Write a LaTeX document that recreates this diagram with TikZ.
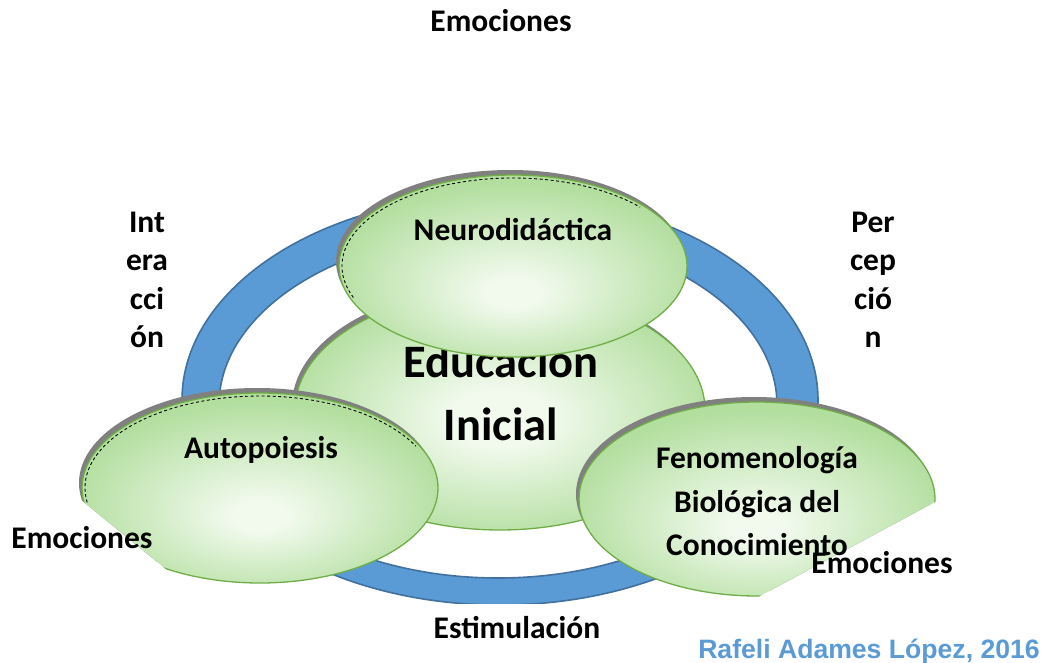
\documentclass[tikz,border=0pt]{standalone}
\usepackage{fontspec}
\setmainfont{Carlito}
\newfontfamily\authorfont{Liberation Sans}
\definecolor{ringblue}{RGB}{91,155,213}
\definecolor{ringdark}{RGB}{65,113,156}
\definecolor{gin}{RGB}{241,250,237}
\definecolor{gout}{RGB}{178,222,158}
\definecolor{gline}{RGB}{112,173,71}
\definecolor{shadowgray}{RGB}{128,128,128}
\definecolor{authorblue}{RGB}{91,155,213}
\pgfdeclareradialshading{ellshade}{\pgfpoint{0bp}{-8bp}}{color(0bp)=(gin); color(4bp)=(gin); color(27bp)=(gout); color(50bp)=(gout)}
\pgfdeclareradialshading{ellshadec}{\pgfpoint{0bp}{-2bp}}{color(0bp)=(gin); color(6bp)=(gin); color(27bp)=(gout); color(50bp)=(gout)}
\tikzset{
  lbl/.style={font=\bfseries\fontsize{31.5}{38}\selectfont, anchor=base, inner sep=0pt},
  biglbl/.style={font=\bfseries\fontsize{46.5}{56}\selectfont, anchor=base, inner sep=0pt},
  authorlbl/.style={font=\authorfont\bfseries\fontsize{26.6}{30}\selectfont, text=authorblue, anchor=base, inner sep=0pt},
  ellside/.style={shading=ellshade, draw=gline, line width=1.3pt},
  ellcenter/.style={shading=ellshadec, draw=gline, line width=1.3pt},
  shadowell/.style={fill=shadowgray},
  dashart/.style={draw=black, line width=0.9pt, dash pattern=on 3pt off 2.5pt},
  ringstyle/.style={fill=ringblue, draw=ringdark, line width=1.6pt, even odd rule},
}
\begin{document}
\begin{tikzpicture}[x=1pt,y=-1pt]
\useasboundingbox[fill=white] (0,0) rectangle (1046,663);

% ---- blue ring ----
\begin{scope}
\clip (0,0) rectangle (1046,603);
\path[ringstyle]
  (500,400) ellipse [x radius=318, y radius=205]
  (498,405) ellipse [x radius=279, y radius=173];
\end{scope}

% ---- central ellipse ----
\fill[shadowell] (497,406) ellipse [x radius=205, y radius=120];
\shadedraw[ellcenter] (500,410) ellipse [x radius=205, y radius=120];
\node[biglbl] (edu1) at (501,377) {Educación};
\node[biglbl] (edu2) at (501,440) {Inicial};

% ---- Neurodidactica ----
\fill[shadowell] (510,261) ellipse [x radius=174, y radius=91];
\shadedraw[ellside] (513,266) ellipse [x radius=174, y radius=91];
\draw[dashart] (513,266) ++(-201:171 and 88) arc[start angle=-201, end angle=-42, x radius=171, y radius=88];
\node[lbl] (neuro) at (513,240) {Neurodidáctica};

% ---- Autopoiesis (cut at lower left) ----
\begin{scope}
\clip (-79,369) -- (249,637) -- (620,637) -- (620,300) -- (-79,300) -- cycle;
\fill[shadowell] (257,483) ellipse [x radius=178, y radius=95];
\shadedraw[ellside] (260,488) ellipse [x radius=178, y radius=95];
\draw[dashart] (260,488) ++(-189:175 and 92) arc[start angle=-189, end angle=-27, x radius=175, y radius=92];
\end{scope}
\node[lbl] (auto) at (261,458) {Autopoiesis};

% ---- Fenomenologia (cut at lower right) ----
\begin{scope}
\clip (1106,410) -- (587,689) -- (500,689) -- (500,300) -- (1106,300) -- cycle;
\fill[shadowell] (754,494) ellipse [x radius=178, y radius=97];
\shadedraw[ellside] (757,499) ellipse [x radius=178, y radius=97];
\end{scope}
\node[lbl] (fen1) at (757,468) {Fenomenología};
\node[lbl] (fen2) at (757,512) {Biológica del};
\node[lbl] (fen3) at (757,555) {Conocimiento};

% ---- outer labels ----
\node[lbl] (emotop) at (501,32) {Emociones};
\node[lbl] (emoleft) at (82,548) {Emociones};
\node[lbl] (emoright) at (882,573) {Emociones};
\node[lbl] (estim) at (517,638) {Estimulación};

\node[lbl] (int1) at (147,232) {Int};
\node[lbl] (int2) at (147,270) {era};
\node[lbl] (int3) at (147,309) {cci};
\node[lbl] (int4) at (147,347) {ón};

\node[lbl] (per1) at (873,232) {Per};
\node[lbl] (per2) at (873,270) {cep};
\node[lbl] (per3) at (873,309) {ció};
\node[lbl] (per4) at (873,347) {n};

\node[authorlbl] (author) at (869,658) {Rafeli Adames López, 2016};
\end{tikzpicture}
\end{document}
